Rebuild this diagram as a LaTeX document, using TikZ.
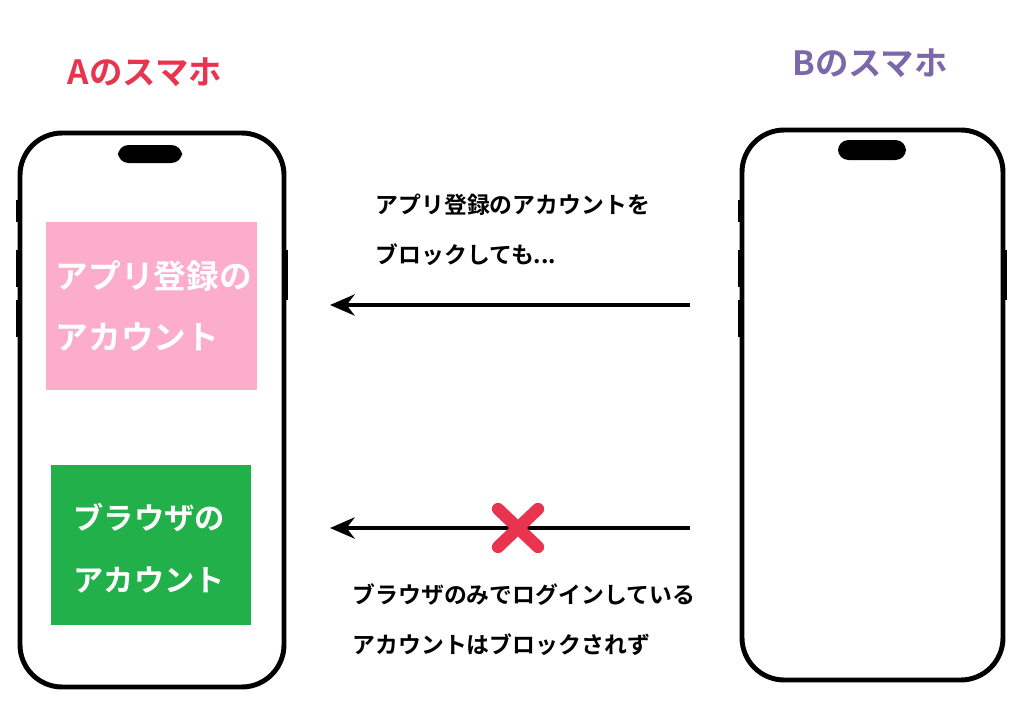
\documentclass[tikz,border=0pt]{standalone}
\usepackage{fontspec}
\newfontfamily\jp{Noto Sans CJK JP Bold}
\usetikzlibrary{arrows.meta}
\definecolor{titleA}{RGB}{232,52,78}
\definecolor{titleB}{RGB}{123,104,168}
\definecolor{pinkbox}{RGB}{252,173,202}
\definecolor{greenbox}{RGB}{34,176,75}
\tikzset{
  phone/.style={draw=black, line width=1.4pt, rounded corners=12pt, fill=white},
  notch/.style={fill=black, rounded corners=3pt},
  btn/.style={fill=black},
  acct/.style={inner sep=0pt, text=white, align=left, font=\jp\fontsize{9.3}{17.6}\selectfont},
  note/.style={inner sep=0pt, align=left, anchor=west, font=\jp\fontsize{6.5}{14.2}\selectfont},
  title/.style={font=\jp\fontsize{9.5}{11}\selectfont},
  block/.style={line width=1.3pt, -{Stealth[length=7pt,width=6pt]}}
}
\begin{document}
\begin{tikzpicture}[x=0.01cm,y=-0.01cm]
\useasboundingbox (0,0) rectangle (1024,715);
% titles
\node[title, text=titleA] (tA) at (145,72) {Aのスマホ};
\node[title, text=titleB] (tB) at (870,63) {Bのスマホ};
% phone A
\fill[btn] (16,200) rectangle (20,222);
\fill[btn] (16,250) rectangle (20,287);
\fill[btn] (16,300) rectangle (20,337);
\fill[btn] (284,250) rectangle (288,300);
\draw[phone] (20,133) rectangle (284,687);
\fill[notch] (118,145) rectangle (182,163);
% phone B
\fill[btn] (738,200) rectangle (742,222);
\fill[btn] (738,250) rectangle (742,287);
\fill[btn] (738,300) rectangle (742,337);
\fill[btn] (1003,250) rectangle (1007,300);
\draw[phone] (742,130) rectangle (1003,680);
\fill[notch] (838,140) rectangle (906,160);
% accounts
\fill[pinkbox] (46,222) rectangle (257,390);
\node[acct, anchor=west] (app) at (55,306) {アプリ登録の\\アカウント};
\fill[greenbox] (51,465) rectangle (251,625);
\node[acct, anchor=west, font=\jp\fontsize{8.6}{17.6}\selectfont] (web) at (73,548) {ブラウザの\\アカウント};
% arrows
\coordinate (s1) at (690,305);
\coordinate (e1) at (330,305);
\coordinate (s2) at (690,528);
\coordinate (e2) at (330,528);
\draw[block] (s1) -- (e1);
\draw[block] (s2) -- (e2);
\draw[titleA, line width=3.5pt, line cap=round] (498,509) -- (538,547) (538,509) -- (498,547);
% notes
\node[note] (n1) at (375,230) {アプリ登録のアカウントを\\ブロックしても...};
\node[note] (n2) at (352,620) {ブラウザのみでログインしている\\アカウントはブロックされず};
\end{tikzpicture}
\end{document}
